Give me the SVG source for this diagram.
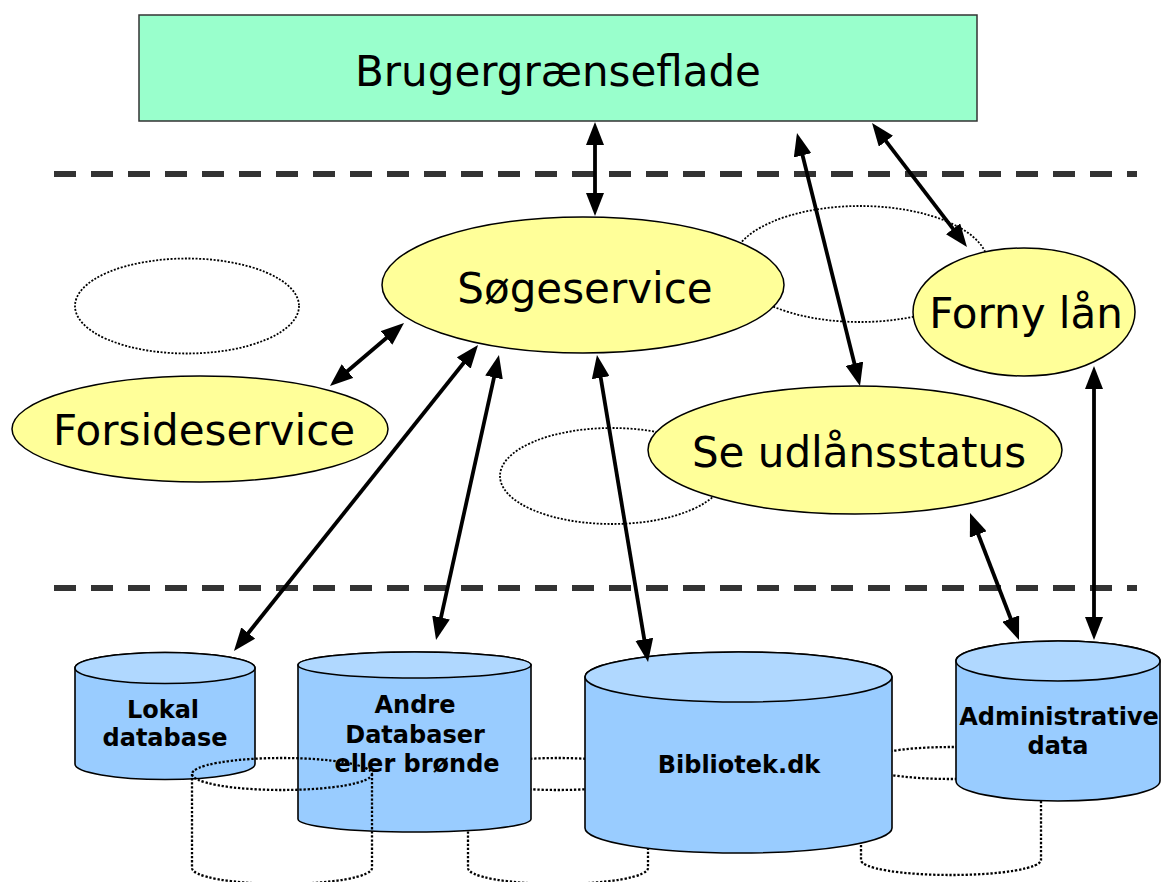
<svg xmlns="http://www.w3.org/2000/svg" width="1162" height="882" viewBox="0 0 1162 882">
<style>
.lbl{font-family:"DejaVu Sans","Verdana","Liberation Sans",sans-serif;font-size:42px;fill:#000;text-anchor:middle}
.blbl{font-family:"DejaVu Sans","Verdana","Liberation Sans",sans-serif;font-size:24px;font-weight:bold;fill:#000;text-anchor:middle}
.svc{fill:#ffff99;stroke:#000;stroke-width:1.5}
.body{fill:#99ccff;stroke:#000;stroke-width:1.6}
.top{fill:#b0d8ff;stroke:#000;stroke-width:1.6}
.dot{fill:none;stroke:#000;stroke-width:1.8;stroke-dasharray:2 1.6}
.dotb{fill:none;stroke:#000;stroke-width:2.3;stroke-dasharray:2.3 1.8}
.dash{stroke:#333;stroke-width:6;stroke-dasharray:22 15}
.con{stroke:#000;stroke-width:3.8;fill:none;marker-start:url(#ah);marker-end:url(#ah)}
</style>
<defs>
<marker id="ah" viewBox="0 0 23 18" refX="13" refY="9" markerWidth="23" markerHeight="18" markerUnits="userSpaceOnUse" orient="auto-start-reverse">
<path d="M0,0 L23,9 L0,18 Z" fill="#000"/>
</marker>
</defs>
<rect width="1162" height="882" fill="#fff"/>

<g id="separators">
<line class="dash" x1="54" y1="174" x2="1137" y2="174"/>
<line class="dash" x1="54" y1="588" x2="1137" y2="588"/>
</g>

<g id="ghosts-back">
<ellipse class="dot" cx="187" cy="306" rx="112" ry="47.5"/>
<ellipse class="dot" cx="860" cy="264" rx="128" ry="58"/>
<ellipse class="dot" cx="612" cy="476" rx="112" ry="48"/>
<path class="dotb" d="M468,774 V868 A90,16 0 0 0 648,868 V774 M468,774 A90,16 0 0 1 648,774 A90,16 0 0 1 468,774"/>
<path class="dotb" d="M861,763 V860 A90,15 0 0 0 1041,860 V763 M861,763 A90,16 0 0 1 1041,763 A90,16 0 0 1 861,763"/>
</g>

<g id="brugergraenseflade">
<rect x="139" y="15" width="838" height="106" fill="#99ffcc" stroke="#333" stroke-width="1.5"/>
<text class="lbl" x="558" y="86">Brugergrænseflade</text>
</g>

<g id="soegeservice">
<ellipse class="svc" cx="583" cy="285" rx="201" ry="68"/>
<text class="lbl" x="585" y="303">Søgeservice</text>
</g>

<g id="forsideservice">
<ellipse class="svc" cx="200" cy="429" rx="188" ry="53"/>
<text class="lbl" x="204" y="445">Forsideservice</text>
</g>

<g id="forny-laan">
<ellipse class="svc" cx="1024" cy="312" rx="111" ry="64"/>
<text class="lbl" x="1026" y="328">Forny lån</text>
</g>

<g id="se-udlaansstatus">
<ellipse class="svc" cx="855" cy="450" rx="207" ry="64"/>
<text class="lbl" x="859" y="467">Se udlånsstatus</text>
</g>

<g id="lokal-database">
<path class="body" d="M75,668 V764 A90,15.5 0 0 0 255,764 V668 A90,15.5 0 0 0 75,668 Z"/>
<ellipse class="top" cx="165" cy="668" rx="90" ry="15.5"/>
<text class="blbl" x="163" y="718">Lokal</text>
<text class="blbl" x="165" y="746">database</text>
</g>

<g id="andre-databaser">
<path class="body" d="M298,665 V819 A116.5,13 0 0 0 531,819 V665 A116.5,13 0 0 0 298,665 Z"/>
<ellipse class="top" cx="414.5" cy="665" rx="116.5" ry="13"/>
<text class="blbl" x="415" y="713">Andre</text>
<text class="blbl" x="415" y="743">Databaser</text>
<text class="blbl" x="417" y="772">eller brønde</text>
</g>

<g id="bibliotek-dk">
<path class="body" d="M585,677 V828 A153.5,25 0 0 0 892,828 V677 A153.5,25 0 0 0 585,677 Z"/>
<ellipse class="top" cx="738.5" cy="677" rx="153.5" ry="25"/>
<text class="blbl" x="739" y="773">Bibliotek.dk</text>
</g>

<g id="administrative-data">
<path class="body" d="M956,661 V781 A102,20 0 0 0 1160,781 V661 A102,20 0 0 0 956,661 Z"/>
<ellipse class="top" cx="1058" cy="661" rx="102" ry="20"/>
<text class="blbl" x="1059" y="725">Administrative</text>
<text class="blbl" x="1058" y="754">data</text>
</g>

<g id="ghost-front">
<path class="dotb" d="M192,774 V868 A90,16 0 0 0 372,868 V774"/>
<ellipse class="dotb" cx="282" cy="774" rx="90" ry="16"/>
</g>

<g id="connectors">
<line class="con" x1="595" y1="132" x2="595" y2="206"/>
<line class="con" x1="799.4" y1="142.7" x2="857.6" y2="376.3"/>
<line class="con" x1="878.1" y1="130.9" x2="960.9" y2="239.1"/>
<line class="con" x1="396.4" y1="329.5" x2="337.6" y2="379.5"/>
<line class="con" x1="471.8" y1="352.8" x2="240.2" y2="643.2"/>
<line class="con" x1="496.8" y1="364.8" x2="438.2" y2="630.2"/>
<line class="con" x1="598.6" y1="364.9" x2="646.4" y2="652.1"/>
<line class="con" x1="973.6" y1="522.3" x2="1015.4" y2="630.7"/>
<line class="con" x1="1094" y1="376" x2="1094" y2="630"/>
</g>
</svg>
